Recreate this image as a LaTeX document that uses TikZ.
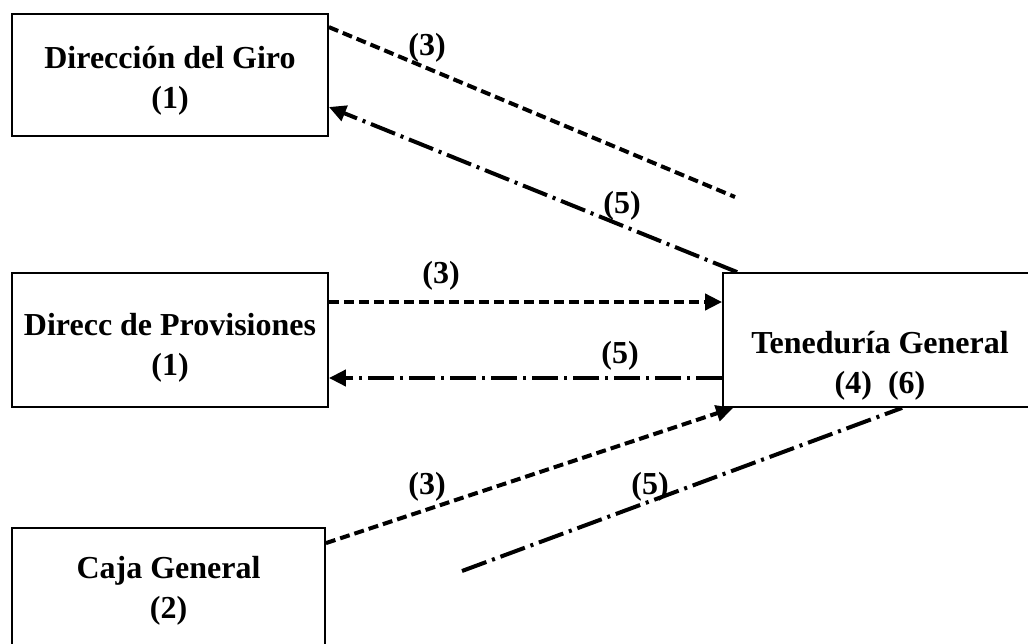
\documentclass[tikz,border=0pt]{standalone}
\usepackage{fontspec}
\setmainfont{Liberation Serif}
\usetikzlibrary{arrows.meta}

\begin{document}
\begin{tikzpicture}[x=1pt,y=-1pt]
                        \tikzstyle{caja}=[draw, line width=1.8pt, inner sep=0pt]
                        \tikzstyle{texto}=[font=\fontsize{32}{40}\selectfont\bfseries, align=center, inner sep=0pt]
                        \tikzstyle{envio}=[line width=4pt, dash pattern=on 10pt off 5pt]
                        \tikzstyle{retorno}=[line width=4pt, dash pattern=on 26pt off 6pt on 3pt off 6pt]
                        \tikzstyle{punta}=[-{Triangle[length=17pt,width=16pt]}]
                        \clip (0,0) rectangle (1028,643);
                        % cajas
                        \node[caja, minimum width=316pt, minimum height=122pt] (giro) at (170,75) {};
                        \node[caja, minimum width=316pt, minimum height=134pt] (prov) at (170,340) {};
                        \node[caja, minimum width=313pt, minimum height=132pt] (cajagral) at (168.5,594) {};
                        \node[caja, minimum width=314pt, minimum height=134pt] (ten) at (880,340) {};
                        \node[texto] (tgiro) at (170,81) {Dirección del Giro\\(1)};
                        \node[texto] (tprov) at (170,348) {Direcc de Provisiones\\(1)};
                        \node[texto] (tcaja) at (168.5,591) {Caja General\\(2)};
                        \node[texto] (tten) at (880,366) {Teneduría General\\(4)~~(6)};
                        % extremos libres
                        \coordinate (fin3) at (735,197);
                        \coordinate (ini5) at (462,571);
                        % conectores
                        \draw[envio] ([yshift=-14pt]giro.north east) -- (fin3);
                        \draw[retorno, punta] ([xshift=15pt]ten.north west) -- ([yshift=-32pt]giro.east);
                        \draw[envio, punta] ([yshift=38pt]prov.east) -- ([yshift=38pt]ten.west);
                        \draw[retorno, punta] ([yshift=-38pt]ten.west) -- ([yshift=-38pt]prov.east);
                        \draw[envio, punta] ([yshift=-16pt]cajagral.north east) -- ([xshift=11pt]ten.south west);
                        \draw[retorno] (ini5) -- ([xshift=180pt]ten.south west);
                        % rotulos
                        \node[texto] (r3a) at (427,48) {(3)};
                        \node[texto] (r5a) at (622,206) {(5)};
                        \node[texto] (r3b) at (441,276) {(3)};
                        \node[texto] (r5b) at (620,356) {(5)};
                        \node[texto] (r3c) at (427,487) {(3)};
                        \node[texto] (r5c) at (650,487) {(5)};
                    \end{tikzpicture}
\end{document}
